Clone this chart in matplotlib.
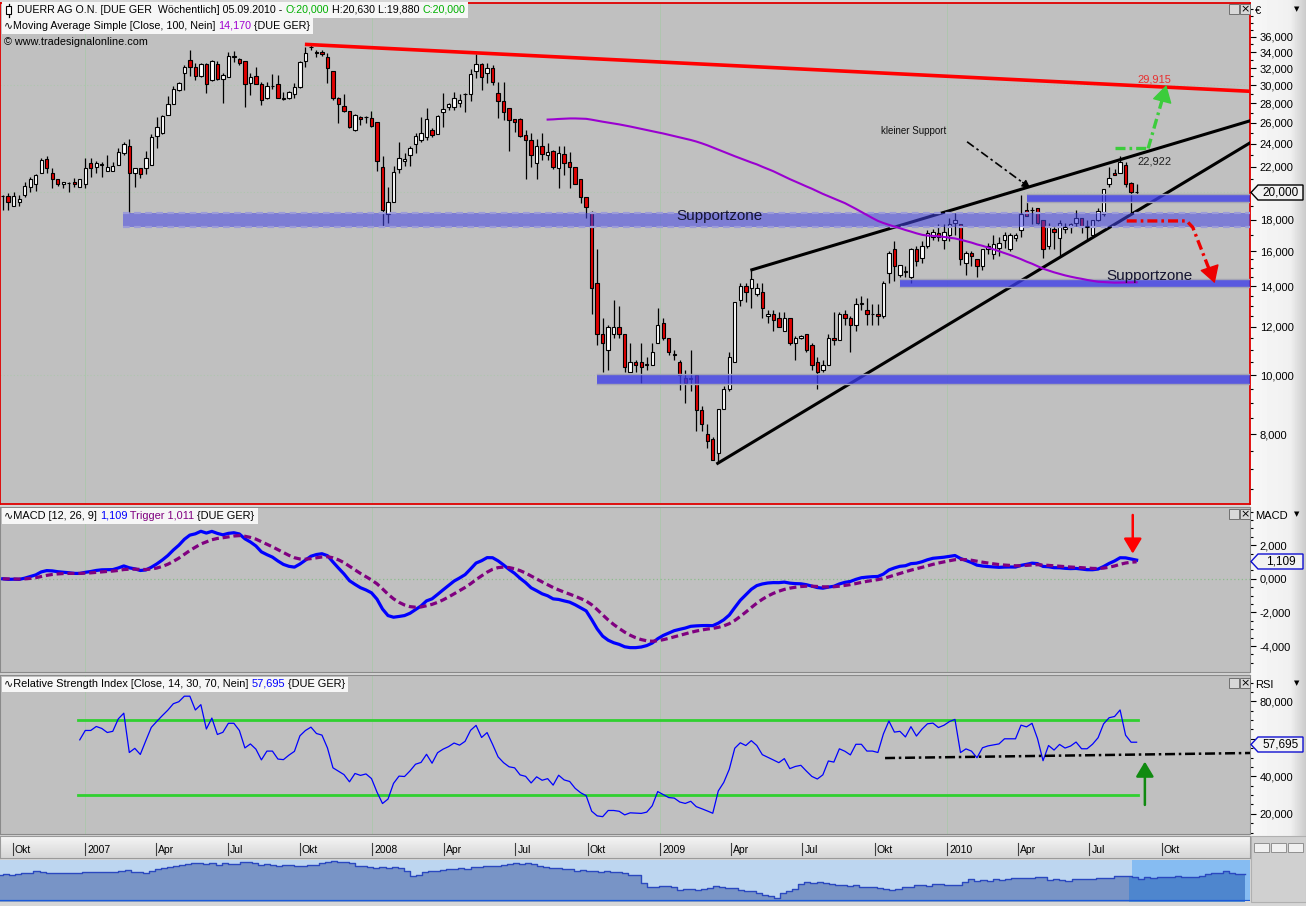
import numpy as np
import pandas as pd
import matplotlib
matplotlib.use("Agg")
import matplotlib.pyplot as plt
from matplotlib.patches import Rectangle, Polygon
from matplotlib.lines import Line2D
from matplotlib.ticker import FixedLocator, FuncFormatter, NullFormatter

plt.rcParams['font.family'] = ['Liberation Sans', 'DejaVu Sans']
plt.rcParams['axes.unicode_minus'] = False

# ---------------- data (weekly candles, DUERR AG) ----------------
first_week = "2006-09-18"
opens = [19.7, 19.7, 19.0, 19.3, 19.8, 20.4, 20.6, 21.5, 22.7, 21.5,
         21.0, 20.6, 20.7, 20.8, 20.4, 20.6, 22.3, 22.0, 22.2, 21.7,
         21.7, 22.2, 23.2, 23.8, 21.5, 21.9, 21.9, 22.2, 24.7, 25.0,
         26.8, 27.9, 29.4, 31.4, 33.0, 32.1, 31.0, 32.5, 30.6, 32.5,
         30.7, 30.9, 33.4, 33.1, 32.9, 30.2, 31.0, 30.1, 28.6, 29.9,
         30.1, 28.5, 28.6, 29.0, 29.8, 32.9, 34.6, 34.0, 34.0, 33.4,
         31.6, 28.6, 27.7, 27.2, 25.3, 26.6, 26.6, 26.5, 26.1, 22.0,
         18.4, 19.3, 21.8, 22.5, 23.0, 24.0, 24.4, 24.6, 25.3, 24.9,
         27.1, 27.6, 27.6, 28.0, 29.0, 29.0, 31.6, 32.5, 31.4, 32.0,
         29.1, 28.2, 27.5, 26.4, 26.4, 24.8, 24.4, 22.3, 23.8, 23.0,
         23.4, 21.9, 23.1, 22.4, 22.0, 21.0, 19.6, 18.5, 14.2, 11.7,
         11.0, 11.7, 12.0, 11.7, 10.1, 10.5, 10.5, 10.4, 10.4, 11.3,
         12.2, 11.5, 10.8, 10.5, 9.9, 9.9, 10.0, 8.76, 8.0, 7.85,
         7.45, 8.8, 9.5, 10.5, 13.3, 14.0, 13.9, 13.6, 13.7, 12.5,
         12.6, 12.4, 11.8, 12.4, 11.3, 11.5, 11.7, 11.2, 10.5, 10.2,
         10.4, 11.5, 11.4, 12.6, 12.4, 12.1, 13.1, 12.8, 12.6, 12.6,
         12.5, 14.7, 16.1, 14.6, 14.8, 14.5, 16.1, 15.6, 16.3, 16.9,
         17.1, 16.7, 17.0, 17.8, 17.7, 15.3, 15.9, 15.5, 15.1, 16.1,
         15.8, 16.2, 16.7, 16.1, 16.8, 17.3, 18.7, 18.7, 18.8, 18.0,
         16.3, 17.4, 16.8, 17.4, 17.5, 17.8, 18.1, 17.5, 17.0, 18.0,
         18.4, 20.6, 21.5, 21.5, 22.2, 20.7, 20.0]
highs = [19.8, 19.9, 20.0, 19.8, 20.8, 21.2, 21.4, 22.8, 22.9, 21.9,
         21.0, 20.8, 20.8, 21.1, 21.0, 22.8, 22.8, 22.5, 22.4, 23.0,
         22.4, 23.6, 24.2, 24.5, 21.9, 21.9, 23.4, 24.9, 26.6, 26.8,
         28.8, 29.9, 30.3, 32.4, 34.2, 32.6, 32.6, 32.6, 33.0, 32.8,
         31.4, 34.0, 34.1, 33.2, 32.9, 31.4, 32.1, 30.3, 30.3, 31.3,
         31.2, 29.2, 29.3, 30.2, 32.8, 34.7, 34.9, 34.3, 34.2, 33.9,
         31.6, 28.7, 29.0, 27.2, 26.9, 26.7, 26.7, 27.2, 26.1, 22.9,
         20.4, 22.1, 24.2, 23.2, 23.8, 25.0, 26.6, 27.5, 25.5, 26.8,
         29.1, 28.0, 29.2, 29.0, 29.1, 31.9, 33.8, 32.6, 32.6, 32.4,
         30.3, 30.3, 27.5, 26.4, 26.5, 25.3, 25.0, 24.5, 25.0, 24.1,
         23.5, 23.8, 23.8, 23.3, 22.0, 21.0, 19.6, 18.6, 16.1, 12.4,
         12.1, 13.3, 13.0, 11.7, 11.3, 10.6, 11.3, 10.7, 11.3, 12.9,
         12.4, 11.5, 11.0, 10.6, 10.2, 11.0, 10.0, 8.9, 8.3, 7.9,
         8.8, 9.6, 10.9, 13.2, 14.2, 14.2, 14.9, 14.2, 14.2, 12.8,
         12.8, 12.7, 12.7, 12.4, 11.6, 11.65, 11.7, 11.3, 10.7, 10.6,
         11.7, 12.7, 12.7, 12.8, 12.5, 13.4, 13.5, 13.4, 13.1, 13.1,
         14.3, 16.0, 16.6, 15.2, 15.1, 16.2, 16.3, 16.6, 17.3, 17.4,
         17.7, 17.7, 18.1, 18.5, 17.7, 16.0, 16.0, 15.5, 16.1, 16.5,
         17.0, 16.9, 17.2, 17.1, 17.1, 19.8, 19.3, 18.9, 18.8, 18.0,
         17.8, 17.5, 18.0, 17.8, 17.8, 18.7, 18.1, 18.0, 18.0, 18.8,
         20.2, 22.0, 21.8, 22.92, 22.4, 20.8, 20.63]
lows = [18.7, 18.7, 19.0, 19.0, 19.6, 20.0, 20.1, 21.5, 21.5, 20.3,
        20.5, 20.3, 20.0, 20.4, 20.4, 20.3, 21.2, 21.5, 21.2, 21.7,
        21.7, 22.2, 23.0, 18.5, 20.4, 21.1, 21.4, 22.2, 23.6, 24.9,
        26.8, 27.9, 29.3, 29.4, 31.0, 30.6, 30.9, 29.1, 30.5, 30.6,
        28.0, 30.9, 32.7, 32.4, 27.6, 28.9, 30.1, 27.8, 28.5, 29.5,
        28.6, 28.4, 28.5, 28.6, 29.7, 32.1, 34.2, 33.4, 33.5, 30.2,
        28.4, 26.0, 27.1, 25.5, 25.2, 25.8, 26.0, 25.6, 21.7, 17.5,
        17.8, 19.3, 21.5, 22.1, 22.1, 23.2, 24.2, 24.4, 24.6, 24.9,
        25.6, 27.3, 27.3, 27.6, 27.1, 28.2, 30.8, 29.4, 30.2, 30.0,
        26.5, 26.3, 23.4, 25.1, 24.6, 21.0, 22.0, 21.0, 22.6, 22.6,
        21.8, 20.3, 21.3, 20.3, 20.6, 19.2, 18.1, 12.6, 11.2, 10.1,
        10.2, 11.5, 11.5, 10.1, 10.1, 10.1, 9.7, 10.2, 10.4, 11.3,
        11.4, 10.8, 10.6, 9.45, 9.0, 9.4, 8.1, 8.1, 7.6, 7.25,
        7.16, 8.8, 9.4, 10.5, 13.0, 13.2, 12.9, 13.5, 12.4, 12.2,
        11.8, 12.0, 11.8, 11.2, 10.6, 11.45, 10.9, 10.2, 9.5, 10.1,
        10.4, 11.2, 11.4, 12.1, 10.9, 11.8, 12.8, 12.1, 12.1, 12.1,
        12.4, 14.2, 14.3, 14.5, 14.5, 14.2, 15.1, 15.3, 16.2, 16.7,
        16.6, 16.1, 16.6, 17.0, 15.2, 14.6, 15.1, 14.5, 14.9, 15.8,
        15.5, 15.7, 16.2, 16.0, 16.6, 16.9, 18.3, 17.7, 17.7, 15.6,
        16.1, 16.1, 15.7, 17.1, 17.1, 17.6, 17.1, 16.7, 16.9, 17.9,
        18.3, 20.4, 21.3, 21.5, 20.4, 18.5, 19.88]
closes = [19.7, 19.3, 19.7, 19.5, 20.5, 21.0, 21.3, 22.6, 21.9, 21.0,
          20.6, 20.8, 20.7, 20.6, 21.0, 21.9, 21.9, 22.3, 22.2, 22.0,
          22.1, 23.3, 24.0, 21.5, 21.9, 21.4, 22.8, 24.6, 25.6, 26.7,
          27.9, 29.6, 30.2, 32.1, 32.1, 31.0, 32.5, 30.1, 32.8, 30.7,
          31.2, 33.5, 33.5, 32.6, 30.1, 30.9, 30.1, 28.3, 29.9, 29.9,
          28.6, 28.5, 29.2, 29.8, 32.7, 33.9, 34.7, 33.9, 33.7, 32.0,
          28.6, 27.9, 27.2, 25.6, 26.8, 26.4, 26.6, 25.7, 22.5, 18.7,
          19.3, 21.6, 22.8, 22.7, 23.6, 24.7, 25.0, 26.4, 24.8, 26.7,
          27.4, 27.9, 28.6, 28.3, 29.0, 31.3, 32.5, 30.9, 32.0, 30.3,
          28.2, 27.1, 26.3, 26.1, 24.7, 24.4, 23.0, 23.8, 23.1, 23.3,
          22.0, 23.2, 22.3, 22.0, 20.6, 19.6, 18.9, 13.9, 11.7, 11.3,
          12.0, 12.0, 11.7, 10.3, 10.5, 10.4, 10.3, 10.4, 10.9, 12.1,
          11.5, 10.9, 10.8, 10.0, 9.7, 9.85, 8.76, 8.3, 7.8, 7.25,
          8.8, 9.5, 10.7, 13.2, 14.0, 13.7, 14.4, 13.9, 12.9, 12.6,
          12.3, 12.0, 12.4, 11.3, 11.5, 11.6, 11.0, 10.4, 10.1, 10.4,
          11.5, 11.4, 12.6, 12.4, 12.1, 13.1, 13.1, 12.6, 12.6, 12.5,
          14.2, 15.9, 15.1, 15.2, 14.8, 16.1, 15.4, 16.3, 17.1, 17.2,
          16.9, 17.2, 17.7, 18.0, 15.5, 15.9, 15.7, 15.1, 16.1, 16.3,
          16.4, 16.5, 17.0, 17.0, 17.0, 18.4, 18.3, 18.7, 17.8, 16.1,
          17.6, 17.2, 17.8, 17.5, 17.7, 18.1, 17.6, 17.6, 18.0, 18.6,
          20.2, 21.1, 21.3, 22.4, 20.6, 20.0, 20.0]

# hand-drawn annotations, as (week index, price)
resistance_line = [(54.9, 35.0), (226.6, 29.3)]
wedge_upper = [(136.1, 14.9), (226.6, 26.2)]
wedge_lower = [(129.9, 7.16), (226.6, 24.1)]
support_zones = [(21.9, 17.51, 18.46), (107.9, 9.67, 10.04),
                 (163.0, 13.98, 14.38), (186.1, 19.24, 19.83)]
date_ticks = [("2006-10-01", "Okt"), ("2007-01-01", "2007"), ("2007-04-01", "Apr"),
              ("2007-07-01", "Jul"), ("2007-10-01", "Okt"), ("2008-01-01", "2008"),
              ("2008-04-01", "Apr"), ("2008-07-01", "Jul"), ("2008-10-01", "Okt"),
              ("2009-01-01", "2009"), ("2009-04-01", "Apr"), ("2009-07-01", "Jul"),
              ("2009-10-01", "Okt"), ("2010-01-01", "2010"), ("2010-04-01", "Apr"),
              ("2010-07-01", "Jul"), ("2010-10-01", "Okt")]
price_ticks = [8, 10, 12, 14, 16, 18, 20, 22, 24, 26, 28, 30, 32, 34, 36]
macd_ticks = [-4, -2, 0, 2]
rsi_ticks = [20, 40, 60, 80]

# ---------------- derived series ----------------
n = len(closes)
xs = np.arange(n)
o = np.array(opens); h = np.array(highs); l = np.array(lows); c = np.array(closes)
cs = pd.Series(c)
ma100 = cs.rolling(100).mean()
macd = cs.ewm(span=12, adjust=False).mean() - cs.ewm(span=26, adjust=False).mean()
trig = macd.ewm(span=9, adjust=False).mean()

def wilder_rsi(vals, period=14):
    out = np.full(len(vals), np.nan)
    dif = np.diff(vals)
    g = np.clip(dif, 0, None)
    ls_ = np.clip(-dif, 0, None)
    ag = g[:period].mean()
    al = ls_[:period].mean()
    out[period] = 100 - 100 / (1 + ag / al)
    for i in range(period, len(dif)):
        ag = (ag * (period - 1) + g[i]) / period
        al = (al * (period - 1) + ls_[i]) / period
        out[i + 1] = 100 - 100 / (1 + ag / al)
    return out

rsi = wilder_rsi(c)

t0 = pd.Timestamp(first_week)
def widx(s):
    return (pd.Timestamp(s) - t0).days / 7.0

# ---------------- figure / layout ----------------
W, H = 1306, 906
fig = plt.figure(figsize=(W / 100, H / 100), dpi=100)
fig.patch.set_facecolor('#d6d6d6')

def rect(x0, y0, x1, y1):
    return [x0 / W, 1 - y1 / H, (x1 - x0) / W, (y1 - y0) / H]

def fx(x):
    return x / W

def fy(y):
    return 1 - y / H

XL = (-0.49, 226.6)
BG = '#c0c0c0'
GRID = '#aec6ae'

# right side gradient background
axbg = fig.add_axes(rect(1250, 0, 1306, 836), zorder=-5)
grad = np.concatenate([np.linspace(0.97, 0.94, 40), np.linspace(0.94, 0.80, 16)])
axbg.imshow(np.tile(grad, (2, 1)), cmap='gray', vmin=0, vmax=1, aspect='auto',
            extent=[0, 1, 0, 1])
axbg.set_axis_off()

def pprice(y):
    return 8 * np.exp((434 - y) / 264.0)

def comma(v, nd=3):
    return f"{v:.{nd}f}".replace('.', ',')

def make_fmt(hidden):
    return FuncFormatter(lambda v, p: '' if any(abs(v - hv) < 1e-9 for hv in hidden)
                         else comma(v))

def style_axis(ax, edge='#8a8a8a'):
    ax.set_facecolor(BG)
    ax.set_xlim(*XL)
    ax.set_xticks([])
    ax.yaxis.tick_right()
    ax.tick_params(axis='y', which='major', length=4, width=0.8, pad=3,
                   labelsize=8, direction='out')
    ax.tick_params(axis='y', which='minor', length=2, width=0.8, direction='out')
    for s in ax.spines.values():
        s.set_color(edge)
        s.set_linewidth(0.8)

# ---------- price panel ----------
ax = fig.add_axes(rect(0, 3, 1250, 504))
style_axis(ax)
for s in ax.spines.values():
    s.set_color('#e00000'); s.set_linewidth(1.3)
ax.set_yscale('log')
ax.set_ylim(pprice(504), pprice(3))
ax.yaxis.set_major_locator(FixedLocator(price_ticks))
minors = [6.5, 7, 7.5, 8.5, 9, 9.5, 10.5, 11, 11.5, 12.5, 13, 13.5, 14.5, 15, 15.5,
          17, 19, 21, 23, 25, 27, 29, 31, 33, 35, 37, 38, 39, 40]
ax.yaxis.set_minor_locator(FixedLocator(minors))
ax.yaxis.set_major_formatter(make_fmt([closes[-1]]))
ax.yaxis.set_minor_formatter(NullFormatter())

yearlines = [widx(s) for s, lab in date_ticks if lab.isdigit()]
for yx in yearlines:
    ax.axvline(yx, color=GRID, lw=0.7, zorder=0.5)
for gv in [10, 20, 30]:
    ax.axhline(gv, color=GRID, lw=0.8, ls=(0, (1, 2)), zorder=0.5)

# candles
up = c >= o
ax.vlines(xs, l, h, color='black', lw=0.9, zorder=2)
bot = np.minimum(o, c)
hgt = np.maximum(np.abs(c - o), 0.02)
ax.bar(xs[up], hgt[up], bottom=bot[up], width=0.62, color='white',
       edgecolor='black', lw=0.8, zorder=2.2)
ax.bar(xs[~up], hgt[~up], bottom=bot[~up], width=0.62, color='#e00000',
       edgecolor='black', lw=0.8, zorder=2.2)

# trend lines
ax.plot(*zip(*resistance_line), color='#ff0000', lw=2.6, zorder=2.6,
        solid_capstyle='butt')
ax.plot(*zip(*wedge_upper), color='black', lw=2.2, zorder=2.6)
ax.plot(*zip(*wedge_lower), color='black', lw=2.2, zorder=2.6)

# support zones
for k, (x0, lo, hi) in enumerate(support_zones):
    if k == 0:
        ax.fill_between([x0, XL[1]], lo, hi, color='#4646e6', alpha=0.55, lw=0, zorder=3)
        for yv in (lo, hi):
            ax.plot([x0, XL[1]], [yv, yv], color='#9c9cd8', lw=1.6,
                    ls=(0, (3, 2)), zorder=3.1)
    else:
        ax.fill_between([x0, XL[1]], lo, hi, color='#3c3ce8', alpha=0.78, lw=0, zorder=3)
        for yv in (lo, hi):
            ax.plot([x0, XL[1]], [yv, yv], color='#a4a4b4', lw=1.0, zorder=3.1)

# moving average
ax.plot(xs, ma100, color='#9a00d0', lw=1.5, zorder=4)

ax.text(130.2, 18.27, "Supportzone", fontsize=11, ha='center', va='center',
        color='#141430', zorder=5)
ax.text(208.3, 14.53, "Supportzone", fontsize=11, ha='center', va='center',
        color='#141430', zorder=5)
ax.text(165.5, 25.2, "kleiner Support", fontsize=7, ha='center', va='center',
        color='#101010', zorder=5)
ax.text(209.3, 22.46, "22,922", fontsize=8, ha='center', va='center',
        color='#202020', zorder=5)
ax.text(209.3, 30.6, "29,915", fontsize=8, ha='center', va='center',
        color='#e83030', zorder=5)

DASHDOT = (0, (3.0, 1.2, 0.8, 1.2))
# kleiner support arrow
ax.plot([175.2, 185.9], [24.2, 20.55], color='black', lw=1.2,
        ls=(0, (5, 2, 1.5, 2)), zorder=5)
ax.annotate('', xy=(186.7, 20.3), xytext=(185.3, 20.75),
            arrowprops=dict(arrowstyle='-|>', color='black', lw=1,
                            mutation_scale=12, shrinkA=0, shrinkB=0), zorder=5)
# green bullish scenario
G = '#3ccc3c'
ax.plot([202.1, 208.1], [23.6, 23.6], color=G, lw=2.4, ls=DASHDOT, zorder=5)
ax.plot([208.1, 210.9], [23.6, 28.9], color=G, lw=2.4, ls=DASHDOT, zorder=5)
ax.annotate('', xy=(211.4, 30.0), xytext=(210.8, 28.6),
            arrowprops=dict(arrowstyle='-|>,head_length=0.6,head_width=0.35',
                            color=G, lw=1, mutation_scale=18, shrinkA=0, shrinkB=0),
            zorder=5)
# red bearish scenario
R = '#ee0000'
ax.plot([204.2, 215.1, 216.2, 219.6], [17.93, 17.93, 17.5, 14.6], color=R, lw=2.4,
        ls=DASHDOT, zorder=5)
ax.annotate('', xy=(220.2, 14.16), xytext=(219.6, 14.7),
            arrowprops=dict(arrowstyle='-|>,head_length=0.6,head_width=0.35',
                            color=R, lw=1, mutation_scale=18, shrinkA=0, shrinkB=0),
            zorder=5)

# ---------- MACD panel ----------
axm = fig.add_axes(rect(0, 507, 1250, 672))
style_axis(axm)
axm.set_ylim((578.8 - 672) / 16.8, (578.8 - 507) / 16.8)
axm.yaxis.set_major_locator(FixedLocator(macd_ticks))
axm.yaxis.set_minor_locator(FixedLocator([-5, -4.5, -3.5, -3, -2.5, -1.5, -1, -0.5,
                                          0.5, 1, 1.5, 2.5, 3, 3.5, 4]))
axm.yaxis.set_major_formatter(make_fmt([]))
axm.yaxis.set_minor_formatter(NullFormatter())
for yx in yearlines:
    axm.axvline(yx, color=GRID, lw=0.7, zorder=0.5)
axm.axhline(0, color='#8cbc8c', lw=0.9, ls=(0, (1, 2)), zorder=0.6)
axm.plot(xs, macd, color='#0000ff', lw=2.3, zorder=3)
axm.plot(xs, trig, color='#800080', lw=2.3, ls=(0, (2.2, 1.2)), zorder=3.5)
axm.annotate('', xy=(205.3, 1.5), xytext=(205.3, 3.8),
             arrowprops=dict(arrowstyle='-|>,head_length=0.5,head_width=0.3',
                             color='#ff0000', lw=1.8, mutation_scale=18,
                             shrinkA=0, shrinkB=0), zorder=5)

# ---------- RSI panel ----------
axr = fig.add_axes(rect(0, 675, 1250, 834))
style_axis(axr)
axr.set_ylim(70 - (834 - 720) / 1.875, 70 + (720 - 675) / 1.875)
axr.yaxis.set_major_locator(FixedLocator(rsi_ticks))
axr.yaxis.set_minor_locator(FixedLocator([10, 15, 25, 30, 35, 45, 50, 55, 65, 70,
                                          75, 85, 90]))
axr.yaxis.set_major_formatter(make_fmt([60]))
axr.yaxis.set_minor_formatter(NullFormatter())
for yx in yearlines:
    axr.axvline(yx, color=GRID, lw=0.7, zorder=0.5)
axr.plot([13.7, 206.2], [70, 70], color='#30d030', lw=2.0, zorder=2)
axr.plot([13.7, 206.2], [30, 30], color='#30d030', lw=2.0, zorder=2)
axr.plot(xs, rsi, color='#0000ff', lw=0.9, zorder=3)
axr.plot([160.3, 226.6], [49.7, 52.4], color='black', lw=1.8,
         ls=(0, (4, 1.5, 1, 1.5)), zorder=4)
axr.annotate('', xy=(207.5, 47.8), xytext=(207.5, 24.7),
             arrowprops=dict(arrowstyle='-|>,head_length=0.5,head_width=0.3',
                             color='#108a10', lw=1.8, mutation_scale=18,
                             shrinkA=0, shrinkB=0), zorder=5)

# ---------- date strip ----------
axd = fig.add_axes(rect(0, 836, 1250, 858))
axd.imshow(np.linspace(0.96, 0.84, 20).reshape(-1, 1), cmap='gray', vmin=0, vmax=1,
           aspect='auto', extent=[XL[0], XL[1], 0, 1], zorder=0)
axd.set_xlim(*XL); axd.set_ylim(0, 1)
axd.set_xticks([]); axd.set_yticks([])
for s in axd.spines.values():
    s.set_color('#9a9a9a'); s.set_linewidth(0.8)
for s, lab in date_ticks:
    xi = widx(s)
    axd.plot([xi, xi], [0.15, 0.7], color='#404040', lw=0.8)
    axd.text(xi + 0.35, 0.36, lab, fontsize=7.5, ha='left', va='center', color='black')

# ---------- navigator ----------
axn = fig.add_axes(rect(0, 860, 1250, 901))
axn.set_facecolor('#bdd6f0')
axn.set_yscale('log')
axn.set_ylim(6.3, 36.6)
axn.set_xlim(0.99, 206.9)
axn.axvspan(187.5, 207, color='#86bcf2', zorder=0.2, lw=0)
axn.fill_between(xs, c, 1, step='mid', color='#7894c6', lw=0, zorder=1)
m = xs >= 187
axn.fill_between(xs[m], c[m], 1, step='mid', color='#4e86ce', lw=0, zorder=1.1)
axn.step(xs, c, where='mid', color='#2a48c0', lw=1.0, zorder=2)
axn.set_xticks([]); axn.set_yticks([]); axn.minorticks_off()
for s in axn.spines.values():
    s.set_visible(False)
axn.axhline(6.35, color='#1c5ad8', lw=1.6, zorder=3)

# right bottom control area
fig.add_artist(Rectangle((fx(1251), fy(902)), (1306 - 1251) / W, (902 - 836) / H,
                         transform=fig.transFigure, fc='#d0d0d0', ec='#b0b0b0', lw=0.8,
                         zorder=1))
for bx in (1254, 1271, 1288):
    fig.add_artist(Rectangle((fx(bx), fy(852)), 15 / W, 9 / H, transform=fig.transFigure,
                             fc='#f0f0f0', ec='#909090', lw=0.7, zorder=2))

# ---------- panel buttons and axis headers ----------
for ytop in (4, 509, 678):
    for bx, sym in ((1229, ''), (1240, '×')):
        fig.add_artist(Rectangle((fx(bx), fy(ytop + 10)), 10 / W, 10 / H,
                                 transform=fig.transFigure, fc='#d8d8d8', ec='#707070',
                                 lw=0.7, zorder=20))
        if sym:
            fig.text(fx(bx + 5), fy(ytop + 5), sym, ha='center', va='center',
                     fontsize=8, zorder=21, family=['DejaVu Sans'])
for yc, lab in ((11, '€'), (516, 'MACD'), (685, 'RSI')):
    fig.text(fx(1255), fy(yc), lab, ha='left', va='center', fontsize=8, zorder=21)
    fig.text(fx(1297), fy(yc - 2), '▼', ha='center', va='center', fontsize=5,
             zorder=21, family=['DejaVu Sans'])

def value_box(yc, txt, ec):
    pts = [(1251, yc), (1258, yc - 7.5), (1303, yc - 7.5), (1303, yc + 7.5), (1258, yc + 7.5)]
    fig.add_artist(Polygon([(fx(a), fy(b)) for a, b in pts], closed=True,
                           transform=fig.transFigure, fc='#f2f2f2', ec=ec, lw=1,
                           zorder=22))
    fig.text(fx(1281), fy(yc), txt, ha='center', va='center', fontsize=8.5, zorder=23)

value_box(192.5, comma(closes[-1]), 'black')
value_box(561.5, "1,109", '#1010d0')
value_box(744.5, "57,695", '#1010d0')

# ---------- legend / header text lines ----------
renderer = fig.canvas.get_renderer()

def twidth(s, size):
    t = fig.text(0, 0, "|" + s + "|", fontsize=size)
    w1 = t.get_window_extent(renderer).width
    t.set_text("||")
    w2 = t.get_window_extent(renderer).width
    t.remove()
    return w1 - w2

def rich(x0, x1, yc, parts, nfit=None, box=None):
    base = 10.0
    fitparts = parts if nfit is None else parts[:nfit]
    tot = sum(twidth(s, base) for s, _ in fitparts)
    size = base * (x1 - x0) / tot
    total_w = sum(twidth(s, size) for s, _ in parts)
    if box is not None:
        bx0, by0, by1 = box
        bx1 = x0 + total_w + 3
        fig.add_artist(Rectangle((fx(bx0), fy(by1)), (bx1 - bx0) / W, (by1 - by0) / H,
                                 transform=fig.transFigure, fc='#f6f6f6', ec='none',
                                 zorder=29))
    x = x0
    for s, col in parts:
        fig.text(fx(x), fy(yc), s, color=col, fontsize=size, ha='left', va='center',
                 zorder=31)
        x += twidth(s, size)

GREEN = '#00b000'
rich(17, 419, 10, [("DUERR AG O.N. [DUE GER  Wöchentlich] 05.09.2010 - ", 'black'),
                   ("O:20,000", GREEN), (" H:20,630 L:19,880", 'black'),
                   (" ", 'black'), ("C:20,000", GREEN)], nfit=3, box=(2, 2, 18))
rich(4, 308, 26, [("∿Moving Average Simple [Close, 100, Nein] ", 'black'),
                  ("14,170", '#a000d0'), (" {DUE GER}", 'black')],
     box=(2, 18, 34))
rich(4, 147, 42, [("© www.tradesignalonline.com", 'black')])
rich(4, 254, 516, [("∿MACD [12, 26, 9] ", 'black'), ("1,109", '#0000ff'),
                   (" Trigger 1,011", '#800080'), (" {DUE GER}", 'black')],
     box=(2, 508, 524))
rich(4, 346, 684, [("∿Relative Strength Index [Close, 14, 30, 70, Nein] ", 'black'),
                   ("57,695", '#0000ff'), (" {DUE GER}", 'black')],
     box=(2, 677, 692))

# little candlestick icon at the start of the header
fig.add_artist(Line2D([fx(8.5), fx(8.5)], [fy(3.5), fy(16.5)], transform=fig.transFigure,
                      color='black', lw=0.9, zorder=32))
fig.add_artist(Rectangle((fx(6), fy(13.5)), 5 / W, 7 / H, transform=fig.transFigure,
                         fc='white', ec='black', lw=0.8, zorder=33))

fig.savefig("out.png", dpi=100, facecolor=fig.get_facecolor())
